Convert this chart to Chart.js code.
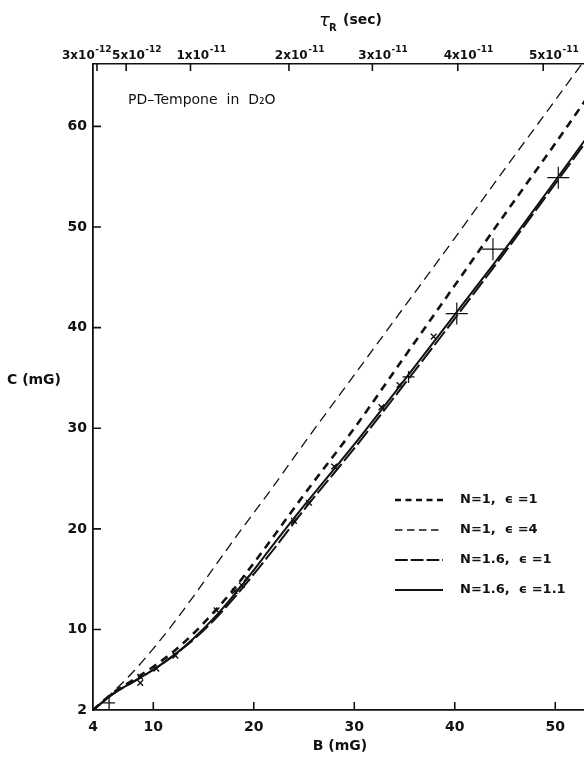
<!DOCTYPE html>
<html>
<head>
<meta charset="utf-8">
<script src="https://cdn.jsdelivr.net/npm/chart.js@4.4.1/dist/chart.umd.min.js"></script>
<style>
  body { margin: 0; background: #fff; }
  #wrap { width: 584px; height: 758px; }
</style>
</head>
<body>
<div id="wrap"><canvas id="myChart" width="584" height="758"></canvas></div>
<script>
// B (mG) grid shared by the four computed curves
const bGrid = [4, 6, 8, 10, 12, 14, 16, 18, 20, 22, 25, 30, 35, 40, 45, 50, 53];
// C (mG) for each curve
const cN1e1 = [2, 3.7, 5.0, 6.3, 7.8, 9.6, 11.7, 14.0, 16.6, 19.3, 23.4, 30.0, 37.1, 44.2, 51.3, 58.3, 62.6];
const cN1e4 = [2, 3.8, 5.8, 8.1, 10.6, 13.3, 16.1, 18.9, 21.6, 24.3, 28.5, 35.3, 42.1, 48.9, 55.8, 62.6, 66.7];
const cN16e1 = [2, 3.6, 4.8, 6.0, 7.4, 9.0, 10.9, 13.1, 15.5, 18.0, 21.9, 28.0, 34.4, 40.9, 47.5, 54.3, 58.4];
const cN16e11 = [2, 3.6, 4.8, 6.0, 7.4, 9.1, 11.1, 13.4, 15.9, 18.5, 22.3, 28.4, 34.8, 41.3, 47.8, 54.6, 58.7];

// experimental points
const smallB = [8.7, 8.7, 10.3, 12.2, 16.3, 18.1, 18.8, 19.3, 24.0, 25.5, 28.0, 32.7, 34.5, 37.9];
const smallC = [4.7, 5.3, 6.1, 7.4, 11.9, 13.8, 14.4, 15.1, 20.8, 22.6, 26.2, 32.1, 34.3, 39.1];
const medB = [5.6, 35.4];
const medC = [2.7, 35.1];
const bigB = [40.2, 43.8, 50.3];
const bigC = [41.4, 47.8, 54.9];

// axes
const xTicks = [4, 10, 20, 30, 40, 50];
const yTicks = [2, 10, 20, 30, 40, 50, 60];
const tauPos = [4.0, 7.3, 13.7, 23.5, 31.8, 40.3, 48.8];
const tauMant = ['3', '5', '1', '2', '3', '4', '5'];
const tauExp = ['-12', '-12', '-11', '-11', '-11', '-11', '-11'];

const FONT = 'DejaVu Sans';
const INK = '#111';

function pts(xs, ys) {
  return xs.map((x, i) => ({ x: x, y: ys[i] }));
}

const curveStyles = [
  { label: 'N=1,  ϵ =1', data: cN1e1, width: 2.6, dash: [8, 6] },
  { label: 'N=1,  ϵ =4', data: cN1e4, width: 1.3, dash: [10, 6] },
  { label: 'N=1.6,  ϵ =1', data: cN16e1, width: 2, dash: [17, 4] },
  { label: 'N=1.6,  ϵ =1.1', data: cN16e11, width: 2, dash: [] },
];

const datasets = curveStyles.map((c) => ({
  label: c.label,
  data: pts(bGrid, c.data),
  borderColor: INK,
  borderWidth: c.width,
  borderDash: c.dash,
  pointRadius: 0,
  fill: false,
  cubicInterpolationMode: 'monotone',
}));

function markers(xs, ys, style, r, w) {
  return {
    data: pts(xs, ys),
    showLine: false,
    pointStyle: style,
    pointRadius: r,
    pointBorderWidth: w,
    pointBorderColor: INK,
    pointBackgroundColor: INK,
  };
}
datasets.push(markers(smallB, smallC, 'crossRot', 4, 1.4));
datasets.push(markers(medB, medC, 'cross', 6, 1.3));
datasets.push(markers(bigB, bigC, 'cross', 11, 1.2));

// no extra room for labels: the frame is fixed
function fixBox(size, key) {
  return (s) => {
    s[key] = size;
    s.paddingLeft = 0;
    s.paddingRight = 0;
    s.paddingTop = 0;
    s.paddingBottom = 0;
  };
}

// inward ticks, top labels, titles, note and legend
const decor = {
  id: 'decor',
  afterDraw(chart) {
    const ctx = chart.ctx;
    const a = chart.chartArea;
    const sx = chart.scales.x;
    const sy = chart.scales.y;
    const st = chart.scales.x2;
    ctx.save();
    ctx.strokeStyle = INK;
    ctx.fillStyle = INK;
    ctx.lineWidth = 1.6;
    ctx.setLineDash([]);
    ctx.beginPath();
    yTicks.slice(1).forEach((v) => {
      const y = sy.getPixelForValue(v);
      ctx.moveTo(a.left, y);
      ctx.lineTo(a.left + 8, y);
    });
    xTicks.slice(1).forEach((v) => {
      const x = sx.getPixelForValue(v);
      ctx.moveTo(x, a.bottom);
      ctx.lineTo(x, a.bottom - 8);
    });
    tauPos.forEach((v) => {
      const x = st.getPixelForValue(v) + (v === tauPos[0] ? 4 : 0);
      ctx.moveTo(x, a.top);
      ctx.lineTo(x, a.top + 7);
    });
    ctx.stroke();

    // top labels: "10" starts at the tick, except the first one
    ctx.textBaseline = 'alphabetic';
    ctx.textAlign = 'left';
    tauPos.forEach((v, i) => {
      const x = st.getPixelForValue(v);
      ctx.font = 'bold 12px ' + FONT;
      const base = tauMant[i] + 'x10';
      const wBase = ctx.measureText(base).width;
      const wPre = ctx.measureText(tauMant[i] + 'x').width;
      ctx.font = 'bold 9px ' + FONT;
      const wExp = ctx.measureText(tauExp[i]).width;
      let left = x - wPre + 2;
      if (i === 0) left = x - (wBase + wExp) + 18;
      ctx.font = 'bold 12px ' + FONT;
      ctx.fillText(base, left, a.top - 5);
      ctx.font = 'bold 9px ' + FONT;
      ctx.fillText(tauExp[i], left + wBase + 0.5, a.top - 12);
    });

    // top title  tau_R (sec)
    ctx.font = 'italic 18px ' + FONT;
    const tx = 319;
    ctx.fillText('τ', tx, 26);
    ctx.font = 'bold 10px ' + FONT;
    ctx.fillText('R', tx + 10, 31);
    ctx.font = 'bold 14px ' + FONT;
    ctx.fillText('(sec)', tx + 24, 24);

    // axis titles
    ctx.font = 'bold 14px ' + FONT;
    ctx.textAlign = 'center';
    ctx.textBaseline = 'middle';
    ctx.fillText('B (mG)', 340, 746);
    ctx.fillText('C (mG)', 34, sy.getPixelForValue(34.8));

    // sample note
    ctx.textAlign = 'left';
    ctx.font = '14px ' + FONT;
    ctx.fillText('PD–Tempone  in  D₂O', 128, 100);

    // legend
    ctx.font = 'bold 13px ' + FONT;
    curveStyles.forEach((c, i) => {
      const y = 500 + i * 30;
      ctx.lineWidth = c.width;
      ctx.setLineDash(c.dash.length ? c.dash.map((d) => d * 0.75) : []);
      ctx.beginPath();
      ctx.moveTo(395, y);
      ctx.lineTo(443, y);
      ctx.stroke();
      ctx.setLineDash([]);
      ctx.fillText(c.label, 460, y);
    });
    ctx.restore();
  },
};

const tickFont = { family: FONT, size: 14, weight: 'bold' };

const ctx = document.getElementById('myChart').getContext('2d');
const myChart = new Chart(ctx, {
  type: 'line',
  data: { datasets: datasets },
  options: {
    responsive: false,
    animation: false,
    layout: { padding: 0, autoPadding: false },
    plugins: { legend: { display: false }, tooltip: { enabled: false } },
    scales: {
      x: {
        type: 'linear',
        position: 'bottom',
        min: 4,
        max: 52.86,
        afterBuildTicks: (s) => { s.ticks = xTicks.map((v) => ({ value: v })); },
        afterFit: fixBox(48, 'height'),
        grid: { drawOnChartArea: false, drawTicks: false },
        border: { display: true, color: INK, width: 1.8 },
        ticks: { color: INK, font: tickFont, padding: 9, maxRotation: 0, autoSkip: false },
      },
      x2: {
        type: 'linear',
        position: 'top',
        min: 4,
        max: 52.86,
        afterBuildTicks: (s) => { s.ticks = tauPos.map((v) => ({ value: v })); },
        afterFit: fixBox(64, 'height'),
        grid: { drawOnChartArea: false, drawTicks: false },
        border: { display: true, color: INK, width: 1.6 },
        ticks: { display: false },
      },
      y: {
        type: 'linear',
        min: 2,
        max: 66.2,
        afterBuildTicks: (s) => { s.ticks = yTicks.map((v) => ({ value: v })); },
        afterFit: fixBox(93, 'width'),
        grid: { drawOnChartArea: false, drawTicks: false },
        border: { display: true, color: INK, width: 1.8 },
        ticks: { color: INK, font: tickFont, padding: 6, autoSkip: false },
      },
    },
  },
  plugins: [decor],
});
</script>
</body>
</html>
